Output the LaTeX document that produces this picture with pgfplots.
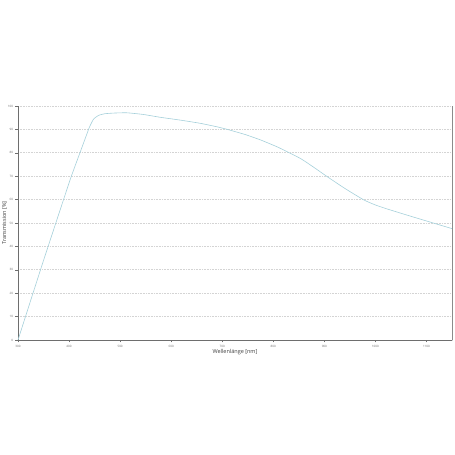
\documentclass[border=0pt]{standalone}
\usepackage{fontspec}
\setmainfont{Open Sans}
\usepackage{pgfplots}
\pgfplotsset{compat=1.18}
\definecolor{curve}{RGB}{165,208,218}
\definecolor{axgray}{RGB}{110,110,110}
\definecolor{gridgray}{RGB}{212,212,212}
\begin{document}
\begin{tikzpicture}[x=1pt,y=1pt]
\path[use as bounding box] (0,0) rectangle (455,455);
\begin{axis}[
  at={(18pt,115pt)}, anchor=origin,
  scale only axis, width=434pt, height=234pt,
  xmin=300, xmax=1150, ymin=0, ymax=100,
  axis x line*=bottom, axis y line*=left,
  axis line style={axgray, line width=0.6pt},
  xtick={300,400,...,1100}, ytick={0,10,...,100},
  tick style={axgray, line width=0.4pt},
  tick align=outside, major tick length=2.5pt,
  ymajorgrids, grid style={gridgray, dash pattern=on 0.8pt off 0.8pt, line width=0.6pt},
  tick label style={font=\fontsize{3}{3}\selectfont, text=axgray},
  /pgf/number format/assume math mode=true,
  /pgf/number format/1000 sep={},
  xticklabel style={yshift=1pt},
  yticklabel style={xshift=1pt},
  xlabel={Wellenlänge [nm]}, ylabel={Transmission [\%]},
  label style={font=\fontsize{5.5}{6}\selectfont, text=black!75},
  xlabel style={yshift=5pt},
  ylabel style={yshift=-6pt},
  clip=false,
]
\addplot[curve, line width=0.6pt, smooth, tension=0.3] coordinates {
  (300,0) (350,34) (402,68.4) (421,79.8) (434,87.5) (440,91)
  (448,94.4) (458,96.0) (470,96.7) (490,97.0) (513,97.1)
  (545,96.4) (578,95.2) (620,93.9) (657,92.6) (690,91.1)
  (710,90.0) (745,87.8) (775,85.5) (810,82.3) (853,77.6)
  (880,73.7) (905,69.9) (940,64.8) (977,59.9) (1000,57.7)
  (1023,56.0) (1060,53.5) (1101,50.8) (1130,48.9) (1150,47.6)
};
\draw[axgray!80, line width=0.6pt] (axis cs:1150,0) -- (axis cs:1150,100);
\end{axis}
\end{tikzpicture}
\end{document}
